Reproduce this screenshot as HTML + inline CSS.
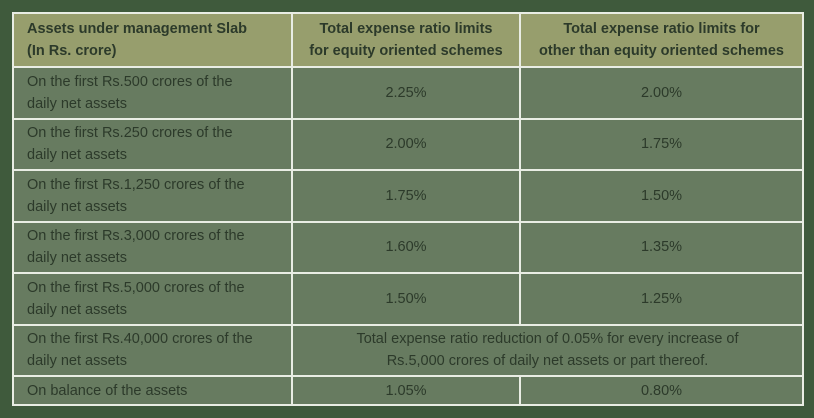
<!DOCTYPE html>
<html><head><meta charset="utf-8"><style>
html,body{margin:0;padding:0;}
body{width:814px;height:418px;background:#3f5a3c;position:relative;overflow:hidden;font-family:"Liberation Sans","DejaVu Sans",sans-serif;}
table{position:absolute;left:12px;top:12px;width:790px;border-collapse:collapse;table-layout:fixed;}
td,th{border:2px solid #e9ede4;color:#2c3a2a;font-size:14.5px;line-height:22px;padding:0 13px;}
th{background:#979e6d;font-weight:bold;height:52px;}
th.l{text-align:left;}
td{background:#677b60;height:49.5px;}
td.c{text-align:center;}
tr.last td{height:27px;}
</style></head><body>
<table>
<colgroup><col style="width:279px"><col style="width:228px"><col style="width:283px"></colgroup>
<tr>
<th class="l">Assets under management Slab<br>(In Rs. crore)</th>
<th>Total expense ratio limits<br>for equity oriented schemes</th>
<th>Total expense ratio limits for<br>other than equity oriented schemes</th></tr>
<tr><td>On the first Rs.500 crores of the<br>daily net assets</td><td class="c">2.25%</td><td class="c">2.00%</td></tr>
<tr><td>On the first Rs.250 crores of the<br>daily net assets</td><td class="c">2.00%</td><td class="c">1.75%</td></tr>
<tr><td>On the first Rs.1,250 crores of the<br>daily net assets</td><td class="c">1.75%</td><td class="c">1.50%</td></tr>
<tr><td>On the first Rs.3,000 crores of the<br>daily net assets</td><td class="c">1.60%</td><td class="c">1.35%</td></tr>
<tr><td>On the first Rs.5,000 crores of the<br>daily net assets</td><td class="c">1.50%</td><td class="c">1.25%</td></tr>
<tr><td>On the first Rs.40,000 crores of the<br>daily net assets</td><td class="c" colspan="2">Total expense ratio reduction of 0.05% for every increase of<br>Rs.5,000 crores of daily net assets or part thereof.</td></tr>
<tr class="last"><td>On balance of the assets</td><td class="c">1.05%</td><td class="c">0.80%</td></tr>
</table>
</body></html>
